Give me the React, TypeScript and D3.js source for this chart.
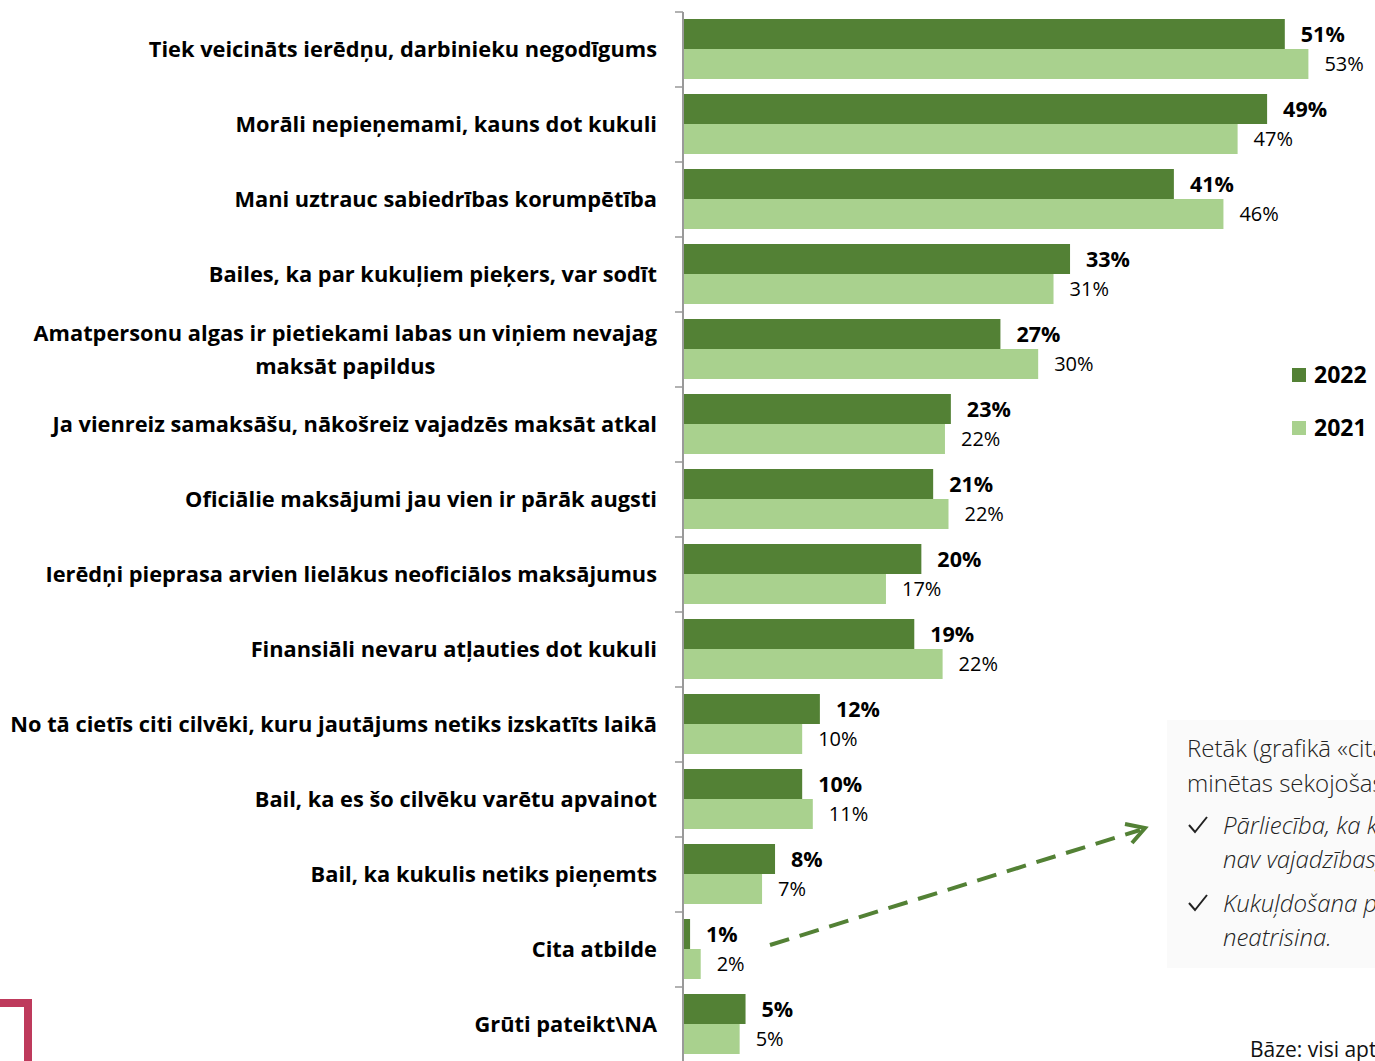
import React, { useLayoutEffect, useRef, useState } from "react";
import * as d3 from "d3";

const categories: string[][] = [
  ["Tiek veicināts ierēdņu, darbinieku negodīgums"],
  ["Morāli nepieņemami, kauns dot kukuli"],
  ["Mani uztrauc sabiedrības korumpētība"],
  ["Bailes, ka par kukuļiem pieķers, var sodīt"],
  ["Amatpersonu algas ir pietiekami labas un viņiem nevajag", "maksāt papildus"],
  ["Ja vienreiz samaksāšu, nākošreiz vajadzēs maksāt atkal"],
  ["Oficiālie maksājumi jau vien ir pārāk augsti"],
  ["Ierēdņi pieprasa arvien lielākus neoficiālos maksājumus"],
  ["Finansiāli nevaru atļauties dot kukuli"],
  ["No tā cietīs citi cilvēki, kuru jautājums netiks izskatīts laikā"],
  ["Bail, ka es šo cilvēku varētu apvainot"],
  ["Bail, ka kukulis netiks pieņemts"],
  ["Cita atbilde"],
  ["Grūti pateikt\\NA"],
];
const values2022: number[] = [51.0, 49.5, 41.6, 32.8, 26.9, 22.7, 21.2, 20.2, 19.6, 11.6, 10.1, 7.8, 0.6, 5.3];
const values2021: number[] = [53.0, 47.0, 45.8, 31.4, 30.1, 22.2, 22.5, 17.2, 22.0, 10.1, 11.0, 6.7, 1.5, 4.8];
const labels2022: string[] = ["51%", "49%", "41%", "33%", "27%", "23%", "21%", "20%", "19%", "12%", "10%", "8%", "1%", "5%"];
const labels2021: string[] = ["53%", "47%", "46%", "31%", "30%", "22%", "22%", "17%", "22%", "10%", "11%", "7%", "2%", "5%"];
const seriesNames: string[] = ["2022", "2021"];
const noteTitle: string[] = ["Retāk (grafikā «cita atbilde») tika", "minētas sekojošas atbildes:"];
const noteItems: string[][] = [
  ["Pārliecība, ka kukuļdošana", "nav vajadzības;"],
  ["Kukuļdošana problēmas", "neatrisina."],
];
const baseText = "Bāze: visi aptaujātie";

const DARK = "#538135";
const LIGHT = "#A9D18E";
const FONT = "'Open Sans', 'Noto Sans', sans-serif";

export default function App() {
  const W = 1375;
  const H = 1061;
  const x0 = 683;
  const labelRight = 657;
  const x = d3.scaleLinear().domain([0, 1]).range([x0, x0 + 11.8]);
  const idx = categories.map((_, i) => String(i));
  const y = d3.scaleBand().domain(idx).range([12, 12 + 75 * categories.length]);
  const inner = d3.scaleBand().domain(seriesNames).range([7, 67]);

  const firstLineRefs = useRef<(SVGTextElement | null)[]>([]);
  const [widths, setWidths] = useState<number[]>([]);
  useLayoutEffect(() => {
    setWidths(firstLineRefs.current.map((el) => (el ? el.getComputedTextLength() : 0)));
  }, []);

  return (
    <svg width={W} height={H} style={{ position: "absolute", left: 0, top: 0, display: "block", background: "#fff" }} fontFamily={FONT}>
      {/* note box */}
      <rect x={1167} y={720} width={220} height={248} fill="#fafafa" />
      {/* bars */}
      {categories.map((lines, i) => {
        const top = y(String(i))!;
        const cy = top + y.bandwidth() / 2;
        const v2 = values2022[i];
        const v1 = values2021[i];
        const multi = lines.length > 1;
        const w = widths[i] || 0;
        const mid = labelRight - w / 2;
        return (
          <g key={i}>
            <rect x={x(0)} y={top + inner("2022")!} width={x(v2) - x(0)} height={inner.bandwidth()} fill={DARK} />
            <rect x={x(0)} y={top + inner("2021")!} width={x(v1) - x(0)} height={inner.bandwidth()} fill={LIGHT} />
            <text x={x(v2) + 16} y={top + inner("2022")! + inner.bandwidth() / 2} dy="0.35em" fontSize={21.5} fontWeight={700} fill="#000">{labels2022[i]}</text>
            <text x={x(v1) + 16} y={top + inner("2021")! + inner.bandwidth() / 2} dy="0.35em" fontSize={20} fill="#000">{labels2021[i]}</text>
            {lines.map((ln, k) => (
              <text
                key={k}
                ref={k === 0 ? (el) => { firstLineRefs.current[i] = el; } : undefined}
                x={multi && k > 0 ? mid : labelRight}
                y={cy + (k - (lines.length - 1) / 2) * 33}
                dy="0.35em"
                textAnchor={multi && k > 0 ? "middle" : "end"}
                fontSize={21.8}
                fontWeight={700}
                fill="#000"
              >{ln}</text>
            ))}
          </g>
        );
      })}
      {/* axis */}
      <line x1={x0} x2={x0} y1={12} y2={H} stroke="#999" strokeWidth={2} />
      {d3.range(categories.length + 1).map((k) => (
        <line key={k} x1={675} x2={x0} y1={12 + 75 * k} y2={12 + 75 * k} stroke="#999" strokeWidth={1.5} />
      ))}
      {/* legend */}
      {seriesNames.map((s, k) => (
        <g key={s}>
          <rect x={1292} y={368 + k * 53} width={14} height={14} fill={k === 0 ? DARK : LIGHT} />
          <text x={1314} y={375 + k * 53} dy="0.36em" fontSize={23} fontWeight={700} fill="#000">{s}</text>
        </g>
      ))}
      {/* note text */}
      {noteTitle.map((t, k) => (
        <text key={k} x={1187} y={757 + k * 35} fontSize={24} fontWeight={300} fill="#222">{t}</text>
      ))}
      {noteItems.map((item, j) => (
        <g key={j}>
          <path d={`M1189,${825 + j * 78} l6,7 l12,-15`} fill="none" stroke="#222" strokeWidth={2} />
          {item.map((t, k) => (
            <text key={k} x={1223} y={834 + j * 78 + k * 34} fontSize={24} fontStyle="italic" fontWeight={300} fill="#222">{t}</text>
          ))}
        </g>
      ))}
      <text x={1250} y={1057} fontSize={21} fill="#111">{baseText}</text>
      {/* arrow */}
      <line x1={770} y1={945} x2={1140} y2={830} stroke={DARK} strokeWidth={4} strokeDasharray="20 11" />
      <polyline points="1125,824 1145,828 1132,843" fill="none" stroke={DARK} strokeWidth={4} />
      {/* red bracket */}
      <path d="M0,1003 L28,1003 L28,1061" fill="none" stroke="#BE3A5C" strokeWidth={8} />
    </svg>
  );
}
